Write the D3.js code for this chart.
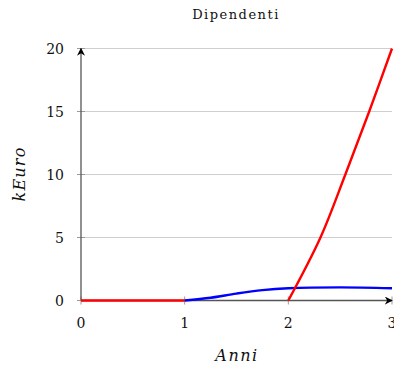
<!DOCTYPE html>
<html>
<head>
<meta charset="utf-8">
<script src="https://d3js.org/d3.v7.min.js"></script>
<style>
  html, body { margin: 0; padding: 0; background: #fff; }
  svg { display: block; }
  text { font-family: "DejaVu Serif", "Liberation Serif", serif; fill: #111; }
</style>
</head>
<body>
<script>
// Chart data
const xTicks = [0, 1, 2, 3];
const yTicks = [0, 5, 10, 15, 20];

// Red series: flat for the first year, then rising from year 2
const redFlatX = [0, 1];
const redFlatY = [0, 0];
const redRiseX = [2, 2.31, 2.55, 2.78, 3];
const redRiseY = [0, 5, 10, 15, 20];

// Blue series
const blueX = [1, 1.25, 1.5, 1.75, 2, 2.5, 3];
const blueY = [0, 0.22, 0.55, 0.82, 0.97, 1.04, 0.97];

const W = 394, H = 365;
const svg = d3.select("body").append("svg").attr("width", W).attr("height", H);

const x = d3.scaleLinear().domain([0, 3]).range([81, 392]);
const y = d3.scaleLinear().domain([0, 20]).range([300.5, 48.5]);

// Horizontal grid lines
svg.append("g").selectAll("line").data(yTicks.filter(d => d > 0)).join("line")
  .attr("x1", x(0)).attr("x2", x(3))
  .attr("y1", d => y(d)).attr("y2", d => y(d))
  .attr("stroke", "#cfcfcf").attr("stroke-width", 1);

// Tick marks
svg.append("g").selectAll("line").data(yTicks).join("line")
  .attr("x1", x(0) - 4).attr("x2", x(0) + 4)
  .attr("y1", d => y(d)).attr("y2", d => y(d))
  .attr("stroke", "#9a9a9a").attr("stroke-width", 1);
svg.append("g").selectAll("line").data(xTicks).join("line")
  .attr("x1", d => x(d)).attr("x2", d => x(d))
  .attr("y1", y(0) - 4).attr("y2", y(0) + 4)
  .attr("stroke", "#9a9a9a").attr("stroke-width", 1);

// Tick labels
svg.append("g").selectAll("text").data(yTicks).join("text")
  .attr("x", 64).attr("y", d => y(d)).attr("dy", "0.36em")
  .attr("text-anchor", "end").attr("font-size", 14)
  .text(d => d);
svg.append("g").selectAll("text").data(xTicks).join("text")
  .attr("x", d => x(d)).attr("y", 328)
  .attr("text-anchor", "middle").attr("font-size", 14)
  .text(d => d);

// Arrowhead marker
const defs = svg.append("defs");
defs.append("marker").attr("id", "arr")
  .attr("viewBox", "0 0 10 10").attr("refX", 9).attr("refY", 5)
  .attr("markerWidth", 8).attr("markerHeight", 8).attr("markerUnits", "userSpaceOnUse")
  .attr("orient", "auto")
  .append("path").attr("d", "M0,0 L10,5 L0,10 L3,5 Z").attr("fill", "#000");

// Axis lines with arrows
svg.append("line").attr("x1", x(0)).attr("x2", x(3)).attr("y1", y(0)).attr("y2", y(0))
  .attr("stroke", "#555").attr("stroke-width", 1.3).attr("marker-end", "url(#arr)");
svg.append("line").attr("x1", x(0)).attr("x2", x(0)).attr("y1", y(0)).attr("y2", y(20))
  .attr("stroke", "#555").attr("stroke-width", 1.3).attr("marker-end", "url(#arr)");

// Series
const line = d3.line().x(d => x(d[0])).y(d => y(d[1])).curve(d3.curveCatmullRom.alpha(0.5));
const zip = (a, b) => a.map((v, i) => [v, b[i]]);

svg.append("path").datum(zip(blueX, blueY)).attr("d", line)
  .attr("fill", "none").attr("stroke", "#0000ff").attr("stroke-width", 2.4);
svg.append("path").datum(zip(redFlatX, redFlatY)).attr("d", line)
  .attr("fill", "none").attr("stroke", "#ff0000").attr("stroke-width", 2.4);
svg.append("path").datum(zip(redRiseX, redRiseY)).attr("d", line)
  .attr("fill", "none").attr("stroke", "#ff0000").attr("stroke-width", 2.4);

// Title and axis labels
svg.append("text").attr("x", 236).attr("y", 18.5).attr("text-anchor", "middle")
  .attr("font-size", 13).attr("letter-spacing", 1.5).text("Dipendenti");
svg.append("text").attr("x", 237).attr("y", 361).attr("text-anchor", "middle")
  .attr("font-size", 16).attr("font-style", "italic").attr("letter-spacing", 1.5).text("Anni");
svg.append("text").attr("transform", "translate(25,174) rotate(-90)")
  .attr("text-anchor", "middle").attr("font-size", 16).attr("font-style", "italic")
  .attr("letter-spacing", 1.2).text("kEuro");
</script>
</body>
</html>
